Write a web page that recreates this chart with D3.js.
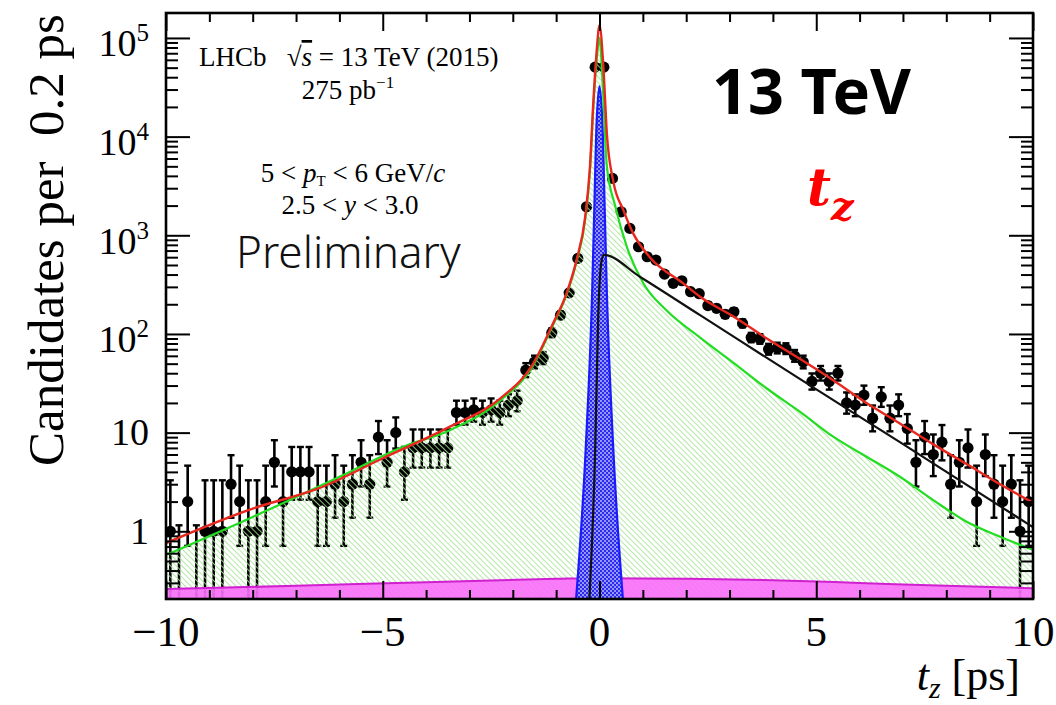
<!DOCTYPE html>
<html>
<head>
<meta charset="utf-8">
<script src="https://cdn.jsdelivr.net/npm/d3@7.9.0/dist/d3.min.js"></script>
<style>
  body { margin: 0; background: #fff; }
  svg { display: block; }
  .serif { font-family: "Liberation Serif", "Times New Roman", serif; }
  .sans { font-family: "Noto Sans", "Open Sans", sans-serif; }
</style>
</head>
<body>
<div id="chart"></div>
<script>
// 0.2 ps bins, centres from -9.9 to 9.9
const binStart = -9.9;
const binWidth = 0.2;
const counts = [
  1, 0, 2, 0, 1, 1, 1, 3, 2, 1,
  1, 2, 5, 2, 4, 4, 4, 2, 2, 3,
  2, 3, 5, 3, 9, 5, 10, 4, 7, 7,
  7, 7, 7, 16, 16, 17, 16, 17, 16, 19,
  21, 43, 52, 57, 103, 155, 261, 583, 1945, 50600,
  50600, 3773, 1730, 1175, 765, 606, 561, 404, 326, 346,
  268, 256, 194, 182, 158, 168, 128, 92, 89, 70,
  72, 71, 60, 52, 33, 40, 33, 40, 20, 19,
  24, 14, 23, 14, 19, 11, 5, 9, 6, 8,
  3, 5, 7, 2, 6, 3, 2, 3, 1, 2
];
// empty bins are drawn with a bar up to this value
const zeroUpper = 1.15;

// fit components, [t, candidates]
const totalFit = [
  [-10, 0.76], [-8, 1.7], [-6.5, 2.7], [-5, 5.5], [-3.45, 11.5], [-2.3, 22],
  [-1.53, 50], [-1.07, 128], [-0.76, 258], [-0.53, 560], [-0.33, 1540],
  [-0.22, 4950], [-0.14, 23300], [-0.065, 74000], [0, 135000], [0.09, 50000],
  [0.17, 10700], [0.32, 3500], [0.55, 1800], [0.78, 1040], [1.16, 600],
  [1.93, 326], [2.32, 238], [3.09, 150], [3.86, 90], [4.62, 56], [5.39, 34],
  [6.16, 20], [6.93, 12.4], [7.7, 7.6], [8.47, 4.8], [9.24, 3.0], [10, 1.95]
];
const promptFit = [
  [-10, 0.575], [-8, 1.4], [-5.76, 4.0], [-4.53, 7.2], [-3.45, 10.6], [-2.3, 21],
  [-1.53, 48], [-1.07, 124], [-0.76, 250], [-0.53, 540], [-0.33, 1450],
  [-0.22, 4500], [-0.14, 21000], [-0.065, 60000], [0, 100000], [0.08, 30000],
  [0.17, 5000], [0.36, 2000], [0.63, 765], [1.01, 326], [1.55, 173], [2.32, 92],
  [3.09, 51], [3.86, 28], [4.62, 16.3], [5.39, 9.1], [6.16, 5.7], [6.93, 3.57],
  [7.7, 2.07], [8.47, 1.25], [9.24, 0.88], [10, 0.65]
];
const fromBFit = [
  [-0.24, 0.18], [-0.1, 6.6], [-0.03, 149], [0.05, 560], [0.1, 632], [0.93, 380],
  [2.32, 155], [4.62, 35], [6.93, 8.0], [10, 1.1]
];
const peakFit = [
  [-0.55, 0.18], [-0.32, 6.6], [-0.17, 260], [-0.115, 2270], [-0.076, 10800],
  [0, 32500], [0.076, 10800], [0.115, 2270], [0.17, 260], [0.32, 6.6], [0.55, 0.18]
];
const tailFit = [
  [-10, 0.26], [-7, 0.28], [-4, 0.305], [-1, 0.33], [0, 0.335], [2, 0.33],
  [4, 0.32], [6, 0.30], [8, 0.28], [10, 0.265]
];

const xMajor = [-10, -5, 0, 5, 10];
const xTickLabels = ['\u221210', '\u22125', '0', '5', '10'];
const yMajor = [1, 10, 100, 1000, 10000, 100000];
const yTickBase = ['1', '10', '10', '10', '10', '10'];
const yTickExp = ['', '', '2', '3', '4', '5'];

const W = 1056, H = 705;
const frame = { left: 166, right: 1033, top: 13, bottom: 599 };

const svg = d3.select('#chart').append('svg')
  .attr('width', W).attr('height', H)
  .style('background', '#fff');

const x = d3.scaleLinear().domain([-10, 10]).range([frame.left, frame.right]);
const y = d3.scaleLog().domain([0.206, 1.79e5]).range([frame.bottom, frame.top]);
const yPix = (v) => (v <= 0 ? frame.bottom + 10 : y(v));

const defs = svg.append('defs');
defs.append('clipPath').attr('id', 'plot-clip')
  .append('rect')
  .attr('x', frame.left).attr('y', frame.top)
  .attr('width', frame.right - frame.left).attr('height', frame.bottom - frame.top);

// green diagonal hatch, transparent in between so points show through
const hatch = defs.append('pattern').attr('id', 'hatch')
  .attr('patternUnits', 'userSpaceOnUse')
  .attr('width', 4).attr('height', 4)
  .attr('patternTransform', 'rotate(-45)');
hatch.append('line')
  .attr('x1', 0).attr('y1', 0).attr('x2', 0).attr('y2', 4)
  .attr('stroke', '#a6e497').attr('stroke-width', 1.7);

// blue cross-hatch for the narrow peak
const dots = defs.append('pattern').attr('id', 'bluedots')
  .attr('patternUnits', 'userSpaceOnUse')
  .attr('width', 4).attr('height', 4);
dots.append('rect').attr('width', 4).attr('height', 4).attr('fill', '#2b2bef');
dots.append('circle').attr('cx', 1).attr('cy', 1).attr('r', 0.9).attr('fill', '#c8c8ff');
dots.append('circle').attr('cx', 3).attr('cy', 3).attr('r', 0.9).attr('fill', '#c8c8ff');

const plot = svg.append('g').attr('clip-path', 'url(#plot-clip)');

// Poisson (Garwood-like) intervals
function lowErr(n) {
  if (n <= 0) return 0;
  return n * Math.pow(1 - 1 / (9 * n) - 1 / (3 * Math.sqrt(n)), 3);
}
function upErr(n) {
  if (n <= 0) return zeroUpper;
  const m = n + 1;
  return m * Math.pow(1 - 1 / (9 * m) + 1 / (3 * Math.sqrt(m)), 3);
}

const bins = counts.map((n, i) => ({ t: binStart + i * binWidth, n }));

// data points (drawn first, the hatch covers them)
const pts = plot.append('g').attr('class', 'points');
pts.selectAll('line.bar')
  .data(bins)
  .join('line')
  .attr('class', 'bar')
  .attr('x1', (d) => x(d.t)).attr('x2', (d) => x(d.t))
  .attr('y1', (d) => yPix(lowErr(d.n)))
  .attr('y2', (d) => yPix(upErr(d.n)))
  .attr('stroke', '#000').attr('stroke-width', 2.6);
pts.selectAll('line.capu')
  .data(bins)
  .join('line')
  .attr('class', 'capu')
  .attr('x1', (d) => x(d.t) - 3.5).attr('x2', (d) => x(d.t) + 3.5)
  .attr('y1', (d) => yPix(upErr(d.n))).attr('y2', (d) => yPix(upErr(d.n)))
  .attr('stroke', '#000').attr('stroke-width', 2.4);
pts.selectAll('line.capl')
  .data(bins.filter((d) => d.n > 0))
  .join('line')
  .attr('class', 'capl')
  .attr('x1', (d) => x(d.t) - 3.5).attr('x2', (d) => x(d.t) + 3.5)
  .attr('y1', (d) => yPix(lowErr(d.n))).attr('y2', (d) => yPix(lowErr(d.n)))
  .attr('stroke', '#000').attr('stroke-width', 2.4);
pts.selectAll('circle')
  .data(bins.filter((d) => d.n > 0))
  .join('circle')
  .attr('cx', (d) => x(d.t))
  .attr('cy', (d) => y(d.n))
  .attr('r', 5.6)
  .attr('fill', '#000');

const area = d3.area()
  .x((d) => x(d[0]))
  .y0(frame.bottom + 5)
  .y1((d) => y(d[1]))
  .curve(d3.curveMonotoneX);
const line = d3.line()
  .x((d) => x(d[0]))
  .y((d) => y(d[1]))
  .curve(d3.curveMonotoneX);

plot.append('path').datum(promptFit).attr('d', area).attr('fill', 'url(#hatch)');
plot.append('path').datum(tailFit).attr('d', area)
  .attr('fill', '#fa6efa').attr('fill-opacity', 0.9);
plot.append('path').datum(tailFit).attr('d', line)
  .attr('fill', 'none').attr('stroke', '#d020d0').attr('stroke-width', 2);
plot.append('path').datum(peakFit).attr('d', area)
  .attr('fill', 'url(#bluedots)').attr('stroke', '#1a1aff').attr('stroke-width', 2.2);
plot.append('path').datum(promptFit).attr('d', line)
  .attr('fill', 'none').attr('stroke', '#22dd22').attr('stroke-width', 2.2);
plot.append('path').datum(fromBFit).attr('d', line)
  .attr('fill', 'none').attr('stroke', '#111').attr('stroke-width', 2.2);
plot.append('path').datum(totalFit).attr('d', line)
  .attr('fill', 'none').attr('stroke', '#e8281e').attr('stroke-width', 2.4);

// inward ticks on all four sides
const xMinor = d3.range(-9, 10).filter((v) => v % 5 !== 0);
const yMinor = [];
for (let e = -1; e <= 5; e++) {
  for (let k = 2; k <= 9; k++) {
    const v = k * Math.pow(10, e);
    if (v > 0.206 && v < 1.79e5) yMinor.push(v);
  }
}
function addAxis(axis, transform) {
  svg.append('g').attr('transform', transform).call(axis)
    .call((g) => {
      g.select('.domain').remove();
      g.selectAll('text').remove();
      g.selectAll('line').attr('stroke', '#000').attr('stroke-width', 2);
    });
}
addAxis(d3.axisBottom(x).tickValues(xMajor).tickSize(-18), `translate(0,${frame.bottom})`);
addAxis(d3.axisBottom(x).tickValues(xMinor).tickSize(-9), `translate(0,${frame.bottom})`);
addAxis(d3.axisTop(x).tickValues(xMajor).tickSize(-18), `translate(0,${frame.top})`);
addAxis(d3.axisTop(x).tickValues(xMinor).tickSize(-9), `translate(0,${frame.top})`);
addAxis(d3.axisLeft(y).tickValues(yMajor).tickSize(-24), `translate(${frame.left},0)`);
addAxis(d3.axisLeft(y).tickValues(yMinor).tickSize(-12), `translate(${frame.left},0)`);
addAxis(d3.axisRight(y).tickValues(yMajor).tickSize(-24), `translate(${frame.right},0)`);
addAxis(d3.axisRight(y).tickValues(yMinor).tickSize(-12), `translate(${frame.right},0)`);

svg.append('rect')
  .attr('x', frame.left).attr('y', frame.top)
  .attr('width', frame.right - frame.left).attr('height', frame.bottom - frame.top)
  .attr('fill', 'none').attr('stroke', '#000').attr('stroke-width', 2.6);

// tick labels
svg.append('g').selectAll('text')
  .data(xMajor)
  .join('text')
  .attr('class', 'serif')
  .attr('x', (d) => x(d))
  .attr('y', 646)
  .attr('text-anchor', 'middle')
  .attr('font-size', 43)
  .text((d, i) => xTickLabels[i]);

const yl = svg.append('g').selectAll('text')
  .data(yMajor)
  .join('text')
  .attr('class', 'serif')
  .attr('x', 149)
  .attr('y', (d, i) => y(d) + (yTickExp[i] ? 18.5 : 12.5))
  .attr('text-anchor', 'end')
  .attr('font-size', 38);
yl.append('tspan').text((d, i) => yTickBase[i]);
yl.filter((d, i) => yTickExp[i] !== '')
  .append('tspan')
  .attr('dy', -15)
  .attr('font-size', 25)
  .text((d) => yTickExp[yMajor.indexOf(d)]);

// axis titles
svg.append('text')
  .attr('class', 'serif')
  .attr('transform', 'translate(63,240) rotate(-90)')
  .attr('text-anchor', 'middle')
  .attr('font-size', 51)
  .style('white-space', 'pre')
  .text('Candidates per  0.2 ps');

const xt = svg.append('text')
  .attr('class', 'serif')
  .attr('x', 1020).attr('y', 690)
  .attr('text-anchor', 'end')
  .attr('font-size', 44)
  .style('white-space', 'pre');
xt.append('tspan').attr('font-style', 'italic').text('t');
xt.append('tspan').attr('font-style', 'italic').attr('font-size', 30).attr('dy', 8).text('z');
xt.append('tspan').attr('dy', -8).text(' [ps]');

// LHCb labels
const lab = svg.append('g').attr('class', 'serif').attr('font-size', 27);
const l1 = lab.append('text').attr('x', 199).attr('y', 66).style('white-space', 'pre');
l1.append('tspan').text('LHCb   \u221A');
l1.append('tspan').attr('font-style', 'italic').style('text-decoration', 'overline').text('s');
l1.append('tspan').text(' = 13 TeV (2015)');

const l2 = lab.append('text').attr('x', 348).attr('y', 99).attr('text-anchor', 'middle');
l2.append('tspan').text('275 pb');
l2.append('tspan').attr('font-size', 17).attr('dy', -11).text('\u22121');

const l3 = lab.append('text').attr('x', 353).attr('y', 182).attr('text-anchor', 'middle')
  .style('white-space', 'pre');
l3.append('tspan').text('5 < ');
l3.append('tspan').attr('font-style', 'italic').text('p');
l3.append('tspan').attr('font-size', 15).attr('dy', 4).text('T');
l3.append('tspan').attr('dy', -4).text(' < 6 GeV/');
l3.append('tspan').attr('font-style', 'italic').text('c');

const l4 = lab.append('text').attr('x', 350).attr('y', 214).attr('text-anchor', 'middle')
  .style('white-space', 'pre');
l4.append('tspan').text('2.5 < ');
l4.append('tspan').attr('font-style', 'italic').text('y');
l4.append('tspan').text(' < 3.0');

svg.append('text')
  .attr('class', 'sans')
  .attr('x', 236).attr('y', 268)
  .attr('font-size', 44)
  .attr('font-weight', 300)
  .attr('fill', '#111')
  .text('Preliminary');

svg.append('text')
  .attr('class', 'sans')
  .attr('x', 712).attr('y', 114)
  .attr('font-size', 63)
  .attr('font-weight', 'bold')
  .attr('fill', '#000')
  .text('13 TeV');

const tz = svg.append('text')
  .attr('x', 807).attr('y', 205)
  .attr('font-family', '"DejaVu Serif", serif')
  .attr('font-weight', 'bold')
  .attr('font-style', 'italic')
  .attr('font-size', 52)
  .attr('fill', '#ff0000');
tz.append('tspan').text('t');
tz.append('tspan').attr('font-size', 40).attr('dy', 15).text('z');
</script>
</body>
</html>
